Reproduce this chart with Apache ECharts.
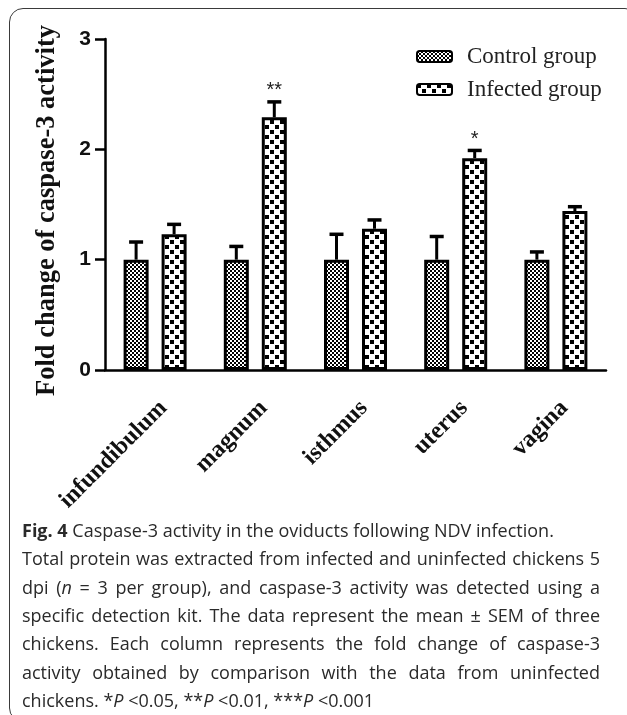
<!DOCTYPE html>
<html>
<head>
<meta charset="utf-8">
<script src="https://cdn.jsdelivr.net/npm/echarts@6/dist/echarts.min.js"></script>
<style>
  html, body { margin: 0; padding: 0; background: #fff; overflow: hidden; }
  #chart { position: absolute; left: 0; top: 0; width: 627px; height: 715px; }
  #frame { position: absolute; left: 9px; top: 8px; width: 628px; height: 712px;
           border: 1.5px solid #3a3a3a; border-radius: 14px; pointer-events: none; }
  #caption { position: absolute; left: 22px; top: 516px; width: 578px;
             font-family: "Open Sans", "Noto Sans", sans-serif; font-size: 18px; line-height: 28.33px; color: #2a2a2a; }
  #caption .j { text-align: justify; text-align-last: justify; white-space: nowrap; }
  #caption .l { text-align: left; white-space: nowrap; }
</style>
</head>
<body>
<div id="chart"></div>
<div id="frame"></div>
<div id="caption">
  <div class="l"><b>Fig. 4</b> Caspase-3 activity in the oviducts following NDV infection.</div>
  <div class="j">Total protein was extracted from infected and uninfected chickens 5</div>
  <div class="j">dpi (<i>n</i> = 3 per group), and caspase-3 activity was detected using a</div>
  <div class="j">specific detection kit. The data represent the mean ± SEM of three</div>
  <div class="j">chickens. Each column represents the fold change of caspase-3</div>
  <div class="j">activity obtained by comparison with the data from uninfected</div>
  <div class="l">chickens. *<i>P</i> &lt;0.05, **<i>P</i> &lt;0.01, ***<i>P</i> &lt;0.001</div>
</div>
<script>
// ---- data ----
const categories = ['infundibulum', 'magnum', 'isthmus', 'uterus', 'vagina'];
const controlMean = [1.0, 1.0, 1.0, 1.0, 1.0];
const controlSEM = [0.16, 0.12, 0.23, 0.21, 0.07];
const infectedMean = [1.23, 2.29, 1.28, 1.92, 1.44];
const infectedSEM = [0.09, 0.14, 0.08, 0.07, 0.04];
const significance = ['', '**', '', '*', ''];
const seriesNames = ['Control group', 'Infected group'];
const yTicks = [0, 1, 2, 3];

// ---- styles ----
const BAR_W = 25;
const BAR_GAP = 0.52;
const CAP_W = 14;
const SERIF = '"Liberation Serif", "Times New Roman", serif';
const SANS = '"Liberation Sans", Arial, sans-serif';
const INK = '#111';

function makePattern(size, draw) {
  const c = document.createElement('canvas');
  c.width = size; c.height = size;
  const ctx = c.getContext('2d');
  ctx.fillStyle = '#fff'; ctx.fillRect(0, 0, size, size);
  ctx.fillStyle = '#000';
  draw(ctx);
  return { image: c, repeat: 'repeat' };
}
const controlPattern = makePattern(4, ctx => { ctx.fillRect(0, 0, 2, 2); ctx.fillRect(2, 2, 2, 2); });
const infectedPattern = makePattern(10, ctx => { ctx.fillRect(0, 0, 4, 4); ctx.fillRect(5, 5, 4, 4); });

const chart = echarts.init(document.getElementById('chart'), null, { renderer: 'canvas' });

function errorSeries(means, sems, side, sigs) {
  return {
    type: 'custom',
    name: 'err' + side,
    z: 5,
    data: categories.map((c, i) => [i, means[i], sems[i]]),
    encode: { x: 0, y: 1 },
    renderItem: function (params, api) {
      const i = api.value(0), m = api.value(1), s = api.value(2);
      const base = api.coord([i, m]);
      const top = api.coord([i, m + s]);
      const off = side * (BAR_W + BAR_W * BAR_GAP) / 2;
      const x = base[0] + off;
      const children = [
        { type: 'line', shape: { x1: x, y1: base[1], x2: x, y2: top[1] }, style: { stroke: '#000', lineWidth: 3 } },
        { type: 'line', shape: { x1: x - CAP_W / 2, y1: top[1], x2: x + CAP_W / 2, y2: top[1] }, style: { stroke: '#000', lineWidth: 3.5 } }
      ];
      const sig = sigs ? sigs[params.dataIndex] : '';
      if (sig) {
        children.push({ type: 'text', style: { text: sig, x: x, y: top[1] - 1, align: 'center', verticalAlign: 'bottom',
          font: '20px ' + SANS, fill: '#222' } });
      }
      return { type: 'group', children: children };
    }
  };
}

chart.setOption({
  animation: false,
  backgroundColor: 'transparent',
  grid: { left: 105, right: 21, top: 39, bottom: 345, containLabel: false },
  legend: {
    data: seriesNames,
    orient: 'vertical',
    left: 411, top: 40,
    itemWidth: 35, itemHeight: 11, itemGap: 10,
    textStyle: { fontFamily: SERIF, fontSize: 23, color: '#222', padding: [0, 0, 0, 10] },
  },
  xAxis: {
    type: 'category',
    data: categories,
    axisLine: { lineStyle: { color: '#000', width: 2.5 } },
    axisTick: { alignWithLabel: true, length: 9, lineStyle: { color: '#000', width: 2.5 } },
    axisLabel: { rotate: 45, margin: 26, verticalAlign: 'top', fontFamily: SERIF, fontWeight: 'bold', fontSize: 24, color: INK }
  },
  yAxis: {
    type: 'value',
    min: yTicks[0], max: yTicks[yTicks.length - 1], interval: 1,
    name: 'Fold change of caspase-3 activity',
    nameLocation: 'middle', nameGap: 44,
    nameTextStyle: { fontFamily: SERIF, fontWeight: 'bold', fontSize: 26.5, color: INK, padding: [0, 12, 0, 0] },
    splitLine: { show: false },
    axisLine: { show: true, lineStyle: { color: '#000', width: 2.5 } },
    axisTick: { show: true, length: 10, lineStyle: { color: '#000', width: 2.5 } },
    axisLabel: { margin: 14, fontFamily: SANS, fontWeight: 'bold', fontSize: 21, color: INK }
  },
  series: [
    { type: 'bar', name: seriesNames[0], data: controlMean, barWidth: BAR_W, barGap: (BAR_GAP * 100) + '%',
      itemStyle: { color: controlPattern, borderColor: '#000', borderWidth: 3 } },
    { type: 'bar', name: seriesNames[1], data: infectedMean, barWidth: BAR_W,
      itemStyle: { color: infectedPattern, borderColor: '#000', borderWidth: 3 } },
    errorSeries(controlMean, controlSEM, -1, null),
    errorSeries(infectedMean, infectedSEM, 1, significance)
  ]
});
</script>
</body>
</html>
